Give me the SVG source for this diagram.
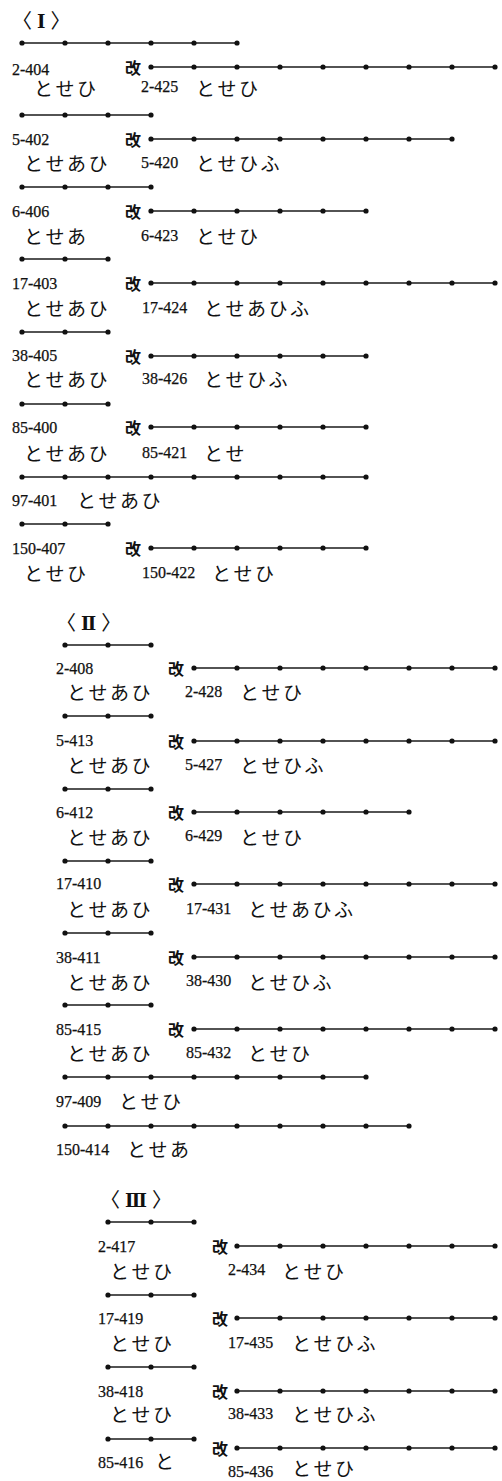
<svg xmlns="http://www.w3.org/2000/svg" width="502" height="1481" viewBox="0 0 502 1481">
<style>
.id{font-family:"Liberation Serif","Noto Sans CJK JP",serif;font-size:16px;fill:#111;stroke:#111;stroke-width:0.25}
.jp{font-family:"Noto Sans CJK JP",sans-serif;font-size:19px;letter-spacing:2.5px;fill:#111}
.kai{font-family:"Noto Sans CJK JP",sans-serif;font-size:16px;font-weight:bold;fill:#111}
.ttl{font-family:"Noto Sans CJK JP",sans-serif;font-size:20px;fill:#111;letter-spacing:5px}
.rn{font-family:"DejaVu Serif","Liberation Serif",serif;font-weight:bold;font-size:18px}
.ln{fill:none;stroke:#1a1a1a;stroke-width:1.4;marker-start:url(#dot);marker-mid:url(#dot);marker-end:url(#dot)}
</style>
<defs>
<marker id="dot" markerWidth="8" markerHeight="8" refX="4" refY="4" markerUnits="userSpaceOnUse"><circle cx="4" cy="4" r="2.6" fill="#111"/></marker>
</defs>
<rect width="502" height="1481" fill="#fff"/>
<g id="connectors">
<polyline class="ln" points="22,43 65,43 108,43 151,43 194,43 237,43"/>
<polyline class="ln" points="151,67 194,67 237,67 280,67 323,67 366,67 409,67 452,67 495,67"/>
<polyline class="ln" points="22,115 65,115 108,115 151,115"/>
<polyline class="ln" points="151,139 194,139 237,139 280,139 323,139 366,139 409,139 452,139"/>
<polyline class="ln" points="22,187 65,187 108,187 151,187"/>
<polyline class="ln" points="151,211 194,211 237,211 280,211 323,211 366,211"/>
<polyline class="ln" points="22,259 65,259 108,259"/>
<polyline class="ln" points="151,283 194,283 237,283 280,283 323,283 366,283 409,283 452,283 495,283"/>
<polyline class="ln" points="22,332 65,332 108,332"/>
<polyline class="ln" points="151,356 194,356 237,356 280,356 323,356 366,356"/>
<polyline class="ln" points="22,404 65,404 108,404"/>
<polyline class="ln" points="151,427 194,427 237,427 280,427 323,427 366,427"/>
<polyline class="ln" points="22,477 65,477 108,477 151,477 194,477 237,477 280,477 323,477 366,477"/>
<polyline class="ln" points="22,524 65,524 108,524"/>
<polyline class="ln" points="151,548 194,548 237,548 280,548 323,548 366,548"/>

<polyline class="ln" points="65,645 108,645 151,645"/>
<polyline class="ln" points="194,668 237,668 280,668 323,668 366,668 409,668 452,668 495,668"/>
<polyline class="ln" points="65,716 108,716 151,716"/>
<polyline class="ln" points="194,741 237,741 280,741 323,741 366,741 409,741 452,741 495,741"/>
<polyline class="ln" points="65,789 108,789 151,789"/>
<polyline class="ln" points="194,812 237,812 280,812 323,812 366,812 409,812"/>
<polyline class="ln" points="65,861 108,861 151,861"/>
<polyline class="ln" points="194,884 237,884 280,884 323,884 366,884 409,884 452,884 495,884"/>
<polyline class="ln" points="65,933 108,933 151,933"/>
<polyline class="ln" points="194,957 237,957 280,957 323,957 366,957 409,957 452,957 495,957"/>
<polyline class="ln" points="65,1005 108,1005 151,1005"/>
<polyline class="ln" points="194,1029 237,1029 280,1029 323,1029 366,1029 409,1029 452,1029 495,1029"/>
<polyline class="ln" points="65,1077 108,1077 151,1077 194,1077 237,1077 280,1077 323,1077 366,1077"/>
<polyline class="ln" points="65,1126 108,1126 151,1126 194,1126 237,1126 280,1126 323,1126 366,1126 409,1126"/>

<polyline class="ln" points="108,1222 151,1222 194,1222"/>
<polyline class="ln" points="237,1246 280,1246 323,1246 366,1246 409,1246 452,1246 495,1246"/>
<polyline class="ln" points="108,1295 151,1295 194,1295"/>
<polyline class="ln" points="237,1318 280,1318 323,1318 366,1318 409,1318 452,1318 495,1318"/>
<polyline class="ln" points="108,1367 151,1367 194,1367"/>
<polyline class="ln" points="237,1391 280,1391 323,1391 366,1391 409,1391 452,1391 495,1391"/>
<polyline class="ln" points="108,1439 151,1439 194,1439"/>
<polyline class="ln" points="237,1448 280,1448 323,1448 366,1448 409,1448 452,1448 495,1448"/>
</g>

<g id="title-1"><text class="ttl" x="12" y="28">〈<tspan class="rn">Ⅰ</tspan>〉</text></g>
<g id="n-2-404"><text class="id" x="12" y="75">2-404</text><text class="kai" x="125" y="74">改</text><text class="jp" x="34" y="96">とせひ</text><text class="id" x="141" y="92">2-425</text><text class="jp" x="196" y="96">とせひ</text></g>
<g id="n-5-402"><text class="id" x="12" y="145">5-402</text><text class="kai" x="125" y="146">改</text><text class="jp" x="24" y="171">とせあひ</text><text class="id" x="141" y="168">5-420</text><text class="jp" x="196" y="171">とせひふ</text></g>
<g id="n-6-406"><text class="id" x="12" y="217">6-406</text><text class="kai" x="125" y="218">改</text><text class="jp" x="24" y="244">とせあ</text><text class="id" x="141" y="241">6-423</text><text class="jp" x="196" y="244">とせひ</text></g>
<g id="n-17-403"><text class="id" x="12" y="289">17-403</text><text class="kai" x="125" y="290">改</text><text class="jp" x="24" y="316">とせあひ</text><text class="id" x="142" y="313">17-424</text><text class="jp" x="204" y="316">とせあひふ</text></g>
<g id="n-38-405"><text class="id" x="12" y="361">38-405</text><text class="kai" x="125" y="363">改</text><text class="jp" x="24" y="387">とせあひ</text><text class="id" x="142" y="384">38-426</text><text class="jp" x="204" y="387">とせひふ</text></g>
<g id="n-85-400"><text class="id" x="12" y="433">85-400</text><text class="kai" x="125" y="434">改</text><text class="jp" x="24" y="461">とせあひ</text><text class="id" x="142" y="458">85-421</text><text class="jp" x="204" y="461">とせ</text></g>
<g id="n-97-401"><text class="id" x="12" y="506">97-401</text><text class="jp" x="77" y="508">とせあひ</text></g>
<g id="n-150-407"><text class="id" x="12" y="554">150-407</text><text class="kai" x="125" y="555">改</text><text class="jp" x="24" y="581">とせひ</text><text class="id" x="142" y="578">150-422</text><text class="jp" x="212" y="581">とせひ</text></g>

<g id="title-2"><text class="ttl" x="56" y="630">〈<tspan class="rn">Ⅱ</tspan>〉</text></g>
<g id="n-2-408"><text class="id" x="56" y="674">2-408</text><text class="kai" x="168" y="675">改</text><text class="jp" x="67" y="700">とせあひ</text><text class="id" x="185" y="697">2-428</text><text class="jp" x="240" y="700">とせひ</text></g>
<g id="n-5-413"><text class="id" x="56" y="746">5-413</text><text class="kai" x="168" y="748">改</text><text class="jp" x="67" y="773">とせあひ</text><text class="id" x="185" y="770">5-427</text><text class="jp" x="240" y="773">とせひふ</text></g>
<g id="n-6-412"><text class="id" x="56" y="818">6-412</text><text class="kai" x="168" y="819">改</text><text class="jp" x="67" y="845">とせあひ</text><text class="id" x="185" y="841">6-429</text><text class="jp" x="240" y="845">とせひ</text></g>
<g id="n-17-410"><text class="id" x="56" y="889">17-410</text><text class="kai" x="168" y="891">改</text><text class="jp" x="67" y="917">とせあひ</text><text class="id" x="186" y="914">17-431</text><text class="jp" x="248" y="917">とせあひふ</text></g>
<g id="n-38-411"><text class="id" x="56" y="963">38-411</text><text class="kai" x="168" y="964">改</text><text class="jp" x="67" y="990">とせあひ</text><text class="id" x="186" y="986">38-430</text><text class="jp" x="248" y="990">とせひふ</text></g>
<g id="n-85-415"><text class="id" x="56" y="1035">85-415</text><text class="kai" x="168" y="1036">改</text><text class="jp" x="67" y="1061">とせあひ</text><text class="id" x="186" y="1058">85-432</text><text class="jp" x="248" y="1061">とせひ</text></g>
<g id="n-97-409"><text class="id" x="56" y="1107">97-409</text><text class="jp" x="119" y="1109">とせひ</text></g>
<g id="n-150-414"><text class="id" x="56" y="1155">150-414</text><text class="jp" x="127" y="1157">とせあ</text></g>

<g id="title-3"><text class="ttl" x="100" y="1207">〈<tspan class="rn">Ⅲ</tspan>〉</text></g>
<g id="n-2-417"><text class="id" x="98" y="1252">2-417</text><text class="kai" x="212" y="1253">改</text><text class="jp" x="110" y="1279">とせひ</text><text class="id" x="228" y="1275">2-434</text><text class="jp" x="282" y="1279">とせひ</text></g>
<g id="n-17-419"><text class="id" x="98" y="1324">17-419</text><text class="kai" x="212" y="1325">改</text><text class="jp" x="110" y="1351">とせひ</text><text class="id" x="228" y="1348">17-435</text><text class="jp" x="292" y="1351">とせひふ</text></g>
<g id="n-38-418"><text class="id" x="98" y="1397">38-418</text><text class="kai" x="212" y="1398">改</text><text class="jp" x="110" y="1422">とせひ</text><text class="id" x="228" y="1419">38-433</text><text class="jp" x="292" y="1422">とせひふ</text></g>
<g id="n-85-416"><text class="kai" x="212" y="1455">改</text><text class="id" x="98" y="1468">85-416</text><text class="jp" x="155" y="1469">と</text><text class="id" x="228" y="1477">85-436</text><text class="jp" x="292" y="1476">とせひ</text></g>
</svg>
